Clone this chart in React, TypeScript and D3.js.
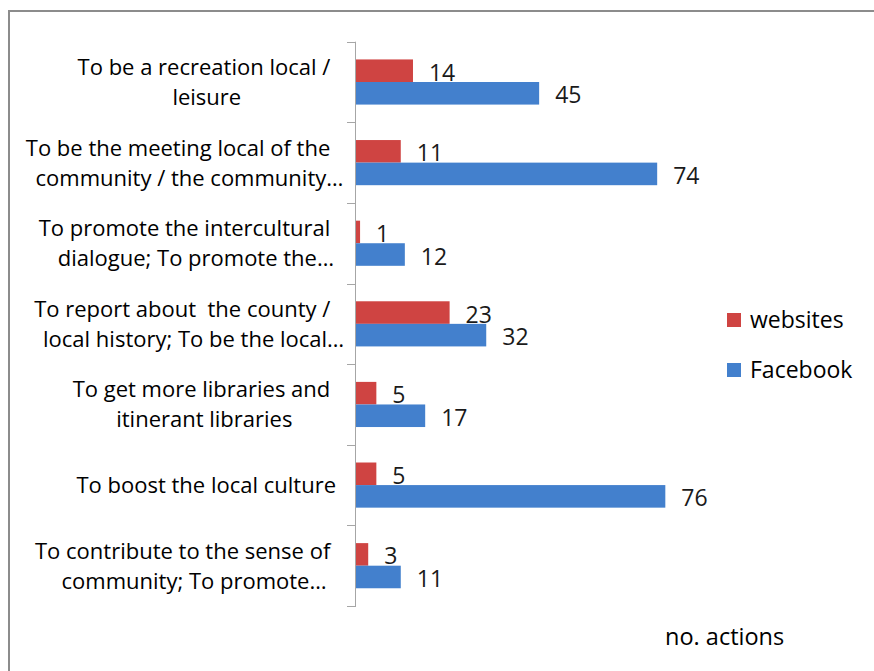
import React, { useEffect, useRef } from 'react';
import * as d3 from 'd3';

// category labels, as wrapped in the original (wrapped lines keep their trailing space)
const categories = [
    ['To be a recreation local / ', 'leisure'],
    ['To be the meeting local of the ', 'community / the community\u2026'],
    ['To promote the intercultural ', 'dialogue; To promote the\u2026'],
    ['To report about  the county / ', 'local history; To be the local\u2026'],
    ['To get more libraries and ', 'itinerant libraries'],
    ['To boost the local culture'],
    ['To contribute to the sense of ', 'community; To promote\u2026'],
];

const seriesNames = ['websites', 'Facebook'];
const websites = [14, 11, 1, 23, 5, 5, 3];
const facebook = [45, 74, 12, 32, 17, 76, 11];
const colors = ['#CF4442', '#4380CD'];

const axisTitle = 'no. actions';

const App = () => {
    const ref = useRef(null);

    const width = 874;
    const height = 671;
    const font = '"Open Sans", "Noto Sans", sans-serif';

    useEffect(() => {
        drawChart();
    }, []);

    function drawChart() {
        const svg = d3.select(ref.current);
        svg.selectAll('*').remove();

        // frame (only top and left edges show in the picture)
        svg.append('path')
            .attr('d', `M9,${height} V11 H${width}`)
            .attr('fill', 'none')
            .attr('stroke', '#8c8c8c')
            .attr('stroke-width', 2);

        const y = d3.scaleBand()
            .domain(d3.range(categories.length))
            .range([41.7, 606])
            .paddingInner(0.44)
            .paddingOuter(0.22);

        const ySub = d3.scaleBand()
            .domain(seriesNames)
            .range([0, y.bandwidth()]);

        const x = d3.scaleLinear()
            .domain([0, 80])
            .range([356, 356 + 80 * 4.07]);

        const values = [websites, facebook];

        // bars + value labels
        seriesNames.forEach((name, s) => {
            const g = svg.append('g');
            g.selectAll('rect')
                .data(values[s])
                .enter()
                .append('rect')
                .attr('x', x(0))
                .attr('y', (d, i) => y(i) + ySub(name))
                .attr('width', (d) => x(d) - x(0))
                .attr('height', ySub.bandwidth())
                .attr('fill', colors[s]);

            g.selectAll('text')
                .data(values[s])
                .enter()
                .append('text')
                .attr('x', (d) => x(d) + 16)
                .attr('y', (d, i) => y(i) + ySub(name) + ySub.bandwidth() / 2 + 10)
                .attr('font-family', font)
                .attr('font-size', 23)
                .attr('fill', '#1a1a1a')
                .text((d) => d);
        });

        // category axis
        const step = y.step();
        const axisTop = y(0) - (step - y.bandwidth()) / 2;
        const axisBottom = axisTop + step * categories.length;
        svg.append('line')
            .attr('x1', 355.5).attr('x2', 355.5)
            .attr('y1', axisTop).attr('y2', axisBottom)
            .attr('stroke', '#a6a6a6');
        svg.selectAll('.tick')
            .data(d3.range(categories.length + 1))
            .enter()
            .append('line')
            .attr('x1', 347).attr('x2', 356)
            .attr('y1', (d) => Math.round(axisTop + d * step) + 0.5)
            .attr('y2', (d) => Math.round(axisTop + d * step) + 0.5)
            .attr('stroke', '#a6a6a6');

        // category labels: lines centred in a block right-aligned to the axis,
        // ellipsis hanging past the centred text
        const blockRight = 336;
        const lineGap = 30;
        const labelSize = 22;
        categories.forEach((lines, i) => {
            const cy = y(i) + y.bandwidth() / 2;
            const cores = lines.map((l) => l.replace('\u2026', ''));
            const widths = cores.map((c) => {
                const t = svg.append('text')
                    .attr('font-family', font)
                    .attr('font-size', labelSize)
                    .style('white-space', 'pre')
                    .text(c);
                const w = t.node().getComputedTextLength();
                t.remove();
                return w;
            });
            const block = d3.max(widths);
            const center = blockRight - block / 2;
            lines.forEach((l, k) => {
                svg.append('text')
                    .attr('x', center - widths[k] / 2)
                    .attr('y', cy + (k - (lines.length - 1) / 2) * lineGap + 8)
                    .attr('font-family', font)
                    .attr('font-size', labelSize)
                    .attr('fill', '#000')
                    .style('white-space', 'pre')
                    .text(l.trimEnd());
            });
        });

        // legend
        const legend = svg.append('g');
        seriesNames.forEach((name, s) => {
            const ly = 320 + s * 50;
            legend.append('rect')
                .attr('x', 727).attr('y', ly - 7)
                .attr('width', 14).attr('height', 14)
                .attr('fill', colors[s]);
            legend.append('text')
                .attr('x', 750).attr('y', ly + 8)
                .attr('font-family', font)
                .attr('font-size', 23)
                .attr('fill', '#000')
                .text(name);
        });

        // value axis title
        svg.append('text')
            .attr('x', 665).attr('y', 645)
            .attr('font-family', font)
            .attr('font-size', 23.5)
            .attr('fill', '#000')
            .text(axisTitle);
    }

    return (
        <svg
            ref={ref}
            width={width}
            height={height}
            style={{ position: 'absolute', left: 0, top: 0, background: '#fff' }}
        />
    );
};

export default App;
